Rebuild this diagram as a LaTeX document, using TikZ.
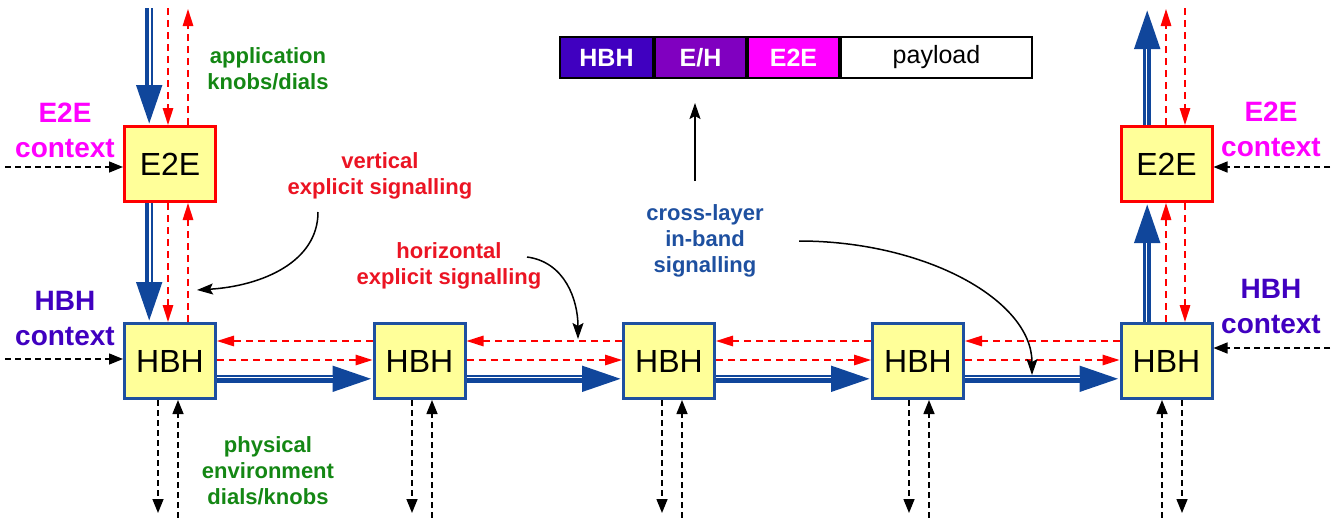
\documentclass[tikz,border=0pt]{standalone}
\usepackage{fontspec}
\setmainfont{Liberation Sans}
\usetikzlibrary{arrows.meta,calc}
\definecolor{boxfill}{RGB}{255,255,153}
\definecolor{boxblue}{RGB}{30,80,160}
\definecolor{arrowblue}{RGB}{16,70,155}
\definecolor{txtblue}{RGB}{30,80,160}
\definecolor{txtred}{RGB}{235,20,35}
\definecolor{txtgreen}{RGB}{20,135,20}
\definecolor{hbhc}{RGB}{64,0,192}
\definecolor{ehc}{RGB}{128,0,192}
\definecolor{e2ec}{RGB}{255,0,255}
\tikzset{
  box/.style={draw, line width=3pt, fill=boxfill, minimum width=91pt, minimum height=75pt, inner sep=0pt, font=\fontsize{32}{38}\selectfont},
  hbhbox/.style={box, draw=boxblue},
  e2ebox/.style={box, draw=red},
  reddash/.style={draw=red, line width=1.5pt, dash pattern=on 7pt off 5pt, -{Triangle[length=17pt,width=10.5pt]}},
  blkdash/.style={draw=black, line width=1.5pt, dash pattern=on 6pt off 4pt, -{Triangle[length=14pt,width=11pt]}},
  bigblue/.style={draw=arrowblue, line width=7.6pt, -{Triangle[length=40pt,width=24pt]}},
  gapline/.style={draw=white, line width=1.4pt, shorten >=40pt},
  curv/.style={draw=black, line width=1.5pt, -{Stealth[length=16pt,width=11pt,inset=3pt]}},
  seg/.style={draw=black, line width=2pt, minimum height=41pt, inner sep=0pt},
  lbl/.style={align=center, inner sep=0pt, font=\bfseries\fontsize{22}{26}\selectfont},
  ctx/.style={align=center, inner sep=0pt, font=\bfseries\fontsize{28}{35}\selectfont}
}
\begin{document}
\begin{tikzpicture}[x=1pt,y=-1pt]
\useasboundingbox (0,0) rectangle (1335,517);

% header bar
\node[seg, fill=hbhc, text=white, minimum width=93pt, font=\bfseries\fontsize{25}{29}\selectfont] (s1) at (606.5,57.5) {HBH};
\node[seg, fill=ehc, text=white, minimum width=91pt, font=\bfseries\fontsize{25}{29}\selectfont] (s2) at (700.5,57.5) {E/H};
\node[seg, fill=e2ec, text=white, minimum width=91pt, font=\bfseries\fontsize{25}{29}\selectfont] (s3) at (793.5,57.5) {E2E};
\node[seg, fill=white, text=black, minimum width=191pt, font=\fontsize{25}{29}\selectfont] (s4) at (936.5,57.5) {payload};

% boxes
\node[e2ebox] (e2el) at (170,164) {E2E};
\node[e2ebox] (e2er) at (1166.5,164) {E2E};
\node[hbhbox] (h1) at (170,361) {HBH};
\node[hbhbox] (h2) at (419.5,361) {HBH};
\node[hbhbox] (h3) at (669,361) {HBH};
\node[hbhbox] (h4) at (918,361) {HBH};
\node[hbhbox] (h5) at (1166.5,361) {HBH};

% labels
\node[lbl, text=txtgreen] (app) at (268,68.5) {application\\knobs/dials};
\node[lbl, text=txtgreen] (phys) at (268,471) {physical\\environment\\dials/knobs};
\node[lbl, text=txtred] (vert) at (380,175.5) {vertical\\explicit signalling};
\node[lbl, text=txtred] (horz) at (449,266) {horizontal\\explicit signalling};
\node[lbl, text=txtblue] (cross) at (705,241) {cross-layer\\in-band\\signalling};
\node[ctx, text=e2ec] (ctxel) at (65,130.5) {E2E\\context};
\node[ctx, text=hbhc] (ctxhl) at (65,318) {HBH\\context};
\node[ctx, text=e2ec] (ctxer) at (1271,129.5) {E2E\\context};
\node[ctx, text=hbhc] (ctxhr) at (1271,306.5) {HBH\\context};

% free ends
\coordinate (tlb) at (149.2,8);
\coordinate (tlg) at (150,8);
\coordinate (tlrd) at (168,8);
\coordinate (tlru) at (188,9);
\coordinate (trb) at (1147.2,9);
\coordinate (trg) at (1146.2,9);
\coordinate (trru) at (1166,9);
\coordinate (trrd) at (1185,8);
\coordinate (kl1) at (5,167);
\coordinate (kl2) at (5,359);
\coordinate (kr1) at (1330,167);
\coordinate (kr2) at (1330,348);

% left column
\draw[bigblue] (tlb) -- ($(e2el.north)+(-20.8,0)$);
\draw[gapline] (tlg) -- ($(e2el.north)+(-20,0)$);
\draw[reddash] (tlrd) -- ($(e2el.north)+(-2,0)$);
\draw[reddash] ($(e2el.north)+(18,0)$) -- (tlru);
\draw[bigblue] ($(e2el.south)+(-20.8,0)$) -- ($(h1.north)+(-20.8,0)$);
\draw[gapline] ($(e2el.south)+(-20,0)$) -- ($(h1.north)+(-20,0)$);
\draw[reddash] ($(e2el.south)+(-2,0)$) -- ($(h1.north)+(-2,0)$);
\draw[reddash] ($(h1.north)+(18,0)$) -- ($(e2el.south)+(18,0)$);

% right column
\draw[bigblue] ($(e2er.north)+(-19.3,0)$) -- (trb);
\draw[gapline] ($(e2er.north)+(-20.3,0)$) -- (trg);
\draw[reddash] ($(e2er.north)+(-0.5,0)$) -- (trru);
\draw[reddash] (trrd) -- ($(e2er.north)+(18.5,0)$);
\draw[bigblue] ($(h5.north)+(-19.3,0)$) -- ($(e2er.south)+(-19.3,0)$);
\draw[gapline] ($(h5.north)+(-20.3,0)$) -- ($(e2er.south)+(-20.3,0)$);
\draw[reddash] ($(h5.north)+(-0.5,0)$) -- ($(e2er.south)+(-0.5,0)$);
\draw[reddash] ($(e2er.south)+(18.5,0)$) -- ($(h5.north)+(18.5,0)$);

% context inputs
\draw[blkdash] (kl1) -- (e2el.west |- kl1);
\draw[blkdash] (kl2) -- (h1.west |- kl2);
\draw[blkdash] (kr1) -- (e2er.east |- kr1);
\draw[blkdash] (kr2) -- (h5.east |- kr2);

% horizontal chain
\foreach \a/\b in {h1/h2,h2/h3,h3/h4,h4/h5}{
  \draw[reddash] ($(\b.west)+(0,-20)$) -- ($(\a.east)+(0,-20)$);
  \draw[reddash] ($(\a.east)+(0,-1)$) -- ($(\b.west)+(0,-1)$);
  \draw[bigblue] ($(\a.east)+(0,17.8)$) -- ($(\b.west)+(0,17.8)$);
  \draw[gapline] ($(\a.east)+(0,16.4)$) -- ($(\b.west)+(0,16.4)$);
}

% physical knobs
\foreach \n/\d/\u in {h1/-12/8,h2/-7.5/12.5,h3/-7/13,h4/-9/11,h5/15.5/-4.5}{
  \coordinate (\n-dn) at ($(\n.south)+(\d,113)$);
  \coordinate (\n-up) at ($(\n.south)+(\u,118)$);
  \draw[blkdash] ($(\n.south)+(\d,0)$) -- (\n-dn);
  \draw[blkdash] (\n-up) -- ($(\n.south)+(\u,0)$);
}

% annotation arrows
\coordinate (c1s) at (318,212);
\coordinate (c1e) at (197,290);
\draw[curv] (c1s) .. controls (318,262) and (262,286) .. (c1e);
\coordinate (c2s) at (527,257);
\coordinate (c2e) at (578,339);
\draw[curv] (c2s) .. controls (565,262) and (578,300) .. (c2e);
\coordinate (c3s) at (799,241);
\coordinate (c3e) at (1032,375);
\draw[curv] (c3s) .. controls (925,241) and (1032,300) .. (c3e);
\coordinate (uas) at (695,181);
\coordinate (uae) at (695,103);
\draw[curv] (uas) -- (uae);
\end{tikzpicture}
\end{document}
